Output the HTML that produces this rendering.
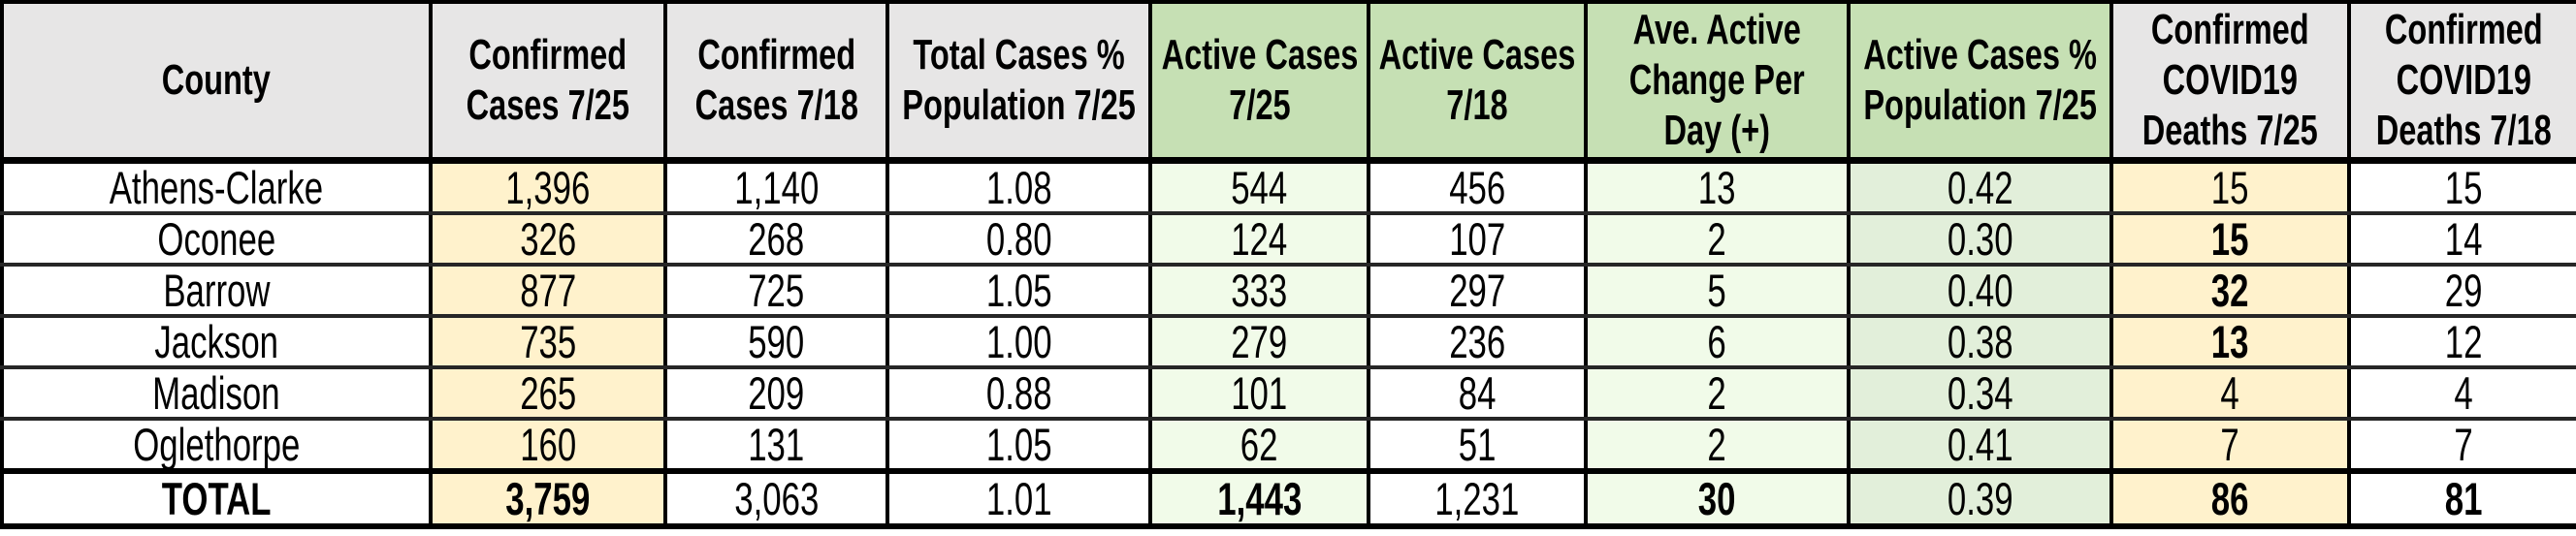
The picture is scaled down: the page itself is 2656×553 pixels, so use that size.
<!DOCTYPE html>
<html><head><meta charset="utf-8"><style>
html,body{margin:0;padding:0;background:#fff;width:2656px;height:553px;overflow:hidden}
table{border-collapse:collapse;table-layout:fixed;width:2656px;font-family:"Liberation Sans",Arial,sans-serif;color:#000}
td,th{border:4px solid #000;text-align:center;padding:0;overflow:hidden;white-space:nowrap}
th{height:158px;font-weight:bold;font-size:44px;line-height:52px;background:#e7e6e6;border-bottom:7px solid #000}
th.g{background:#c6e0b4}
td{height:49px;font-size:47px;line-height:49px;border-top:4px solid #262626;border-bottom:4px solid #262626}
tr.t td{height:51px;border-top:6px solid #000;border-bottom:6px solid #000}
span{display:inline-block;transform:scaleX(.74);transform-origin:center;margin:0 -150px}
.c{background:#fff2cc}
.a{background:#f1fbe9}
.p{background:#e2efda}
b{font-weight:bold}
</style></head><body>
<table>
<colgroup><col style="width:442px"><col style="width:242px"><col style="width:229px"><col style="width:271px"><col style="width:225px"><col style="width:224px"><col style="width:271px"><col style="width:271px"><col style="width:245px"><col style="width:236px"></colgroup>
<tr>
<th><span>County</span></th>
<th><span>Confirmed<br>Cases 7/25</span></th>
<th><span>Confirmed<br>Cases 7/18</span></th>
<th><span>Total Cases %<br>Population 7/25</span></th>
<th class="g"><span>Active Cases<br>7/25</span></th>
<th class="g"><span>Active Cases<br>7/18</span></th>
<th class="g"><span>Ave. Active<br>Change Per<br>Day (+)</span></th>
<th class="g"><span>Active Cases %<br>Population 7/25</span></th>
<th><span>Confirmed<br>COVID19<br>Deaths 7/25</span></th>
<th><span>Confirmed<br>COVID19<br>Deaths 7/18</span></th>
</tr>
<tr><td><span>Athens-Clarke</span></td><td class="c"><span>1,396</span></td><td><span>1,140</span></td><td><span>1.08</span></td><td class="a"><span>544</span></td><td><span>456</span></td><td class="a"><span>13</span></td><td class="p"><span>0.42</span></td><td class="c"><span>15</span></td><td><span>15</span></td></tr>
<tr><td><span>Oconee</span></td><td class="c"><span>326</span></td><td><span>268</span></td><td><span>0.80</span></td><td class="a"><span>124</span></td><td><span>107</span></td><td class="a"><span>2</span></td><td class="p"><span>0.30</span></td><td class="c"><span><b>15</b></span></td><td><span>14</span></td></tr>
<tr><td><span>Barrow</span></td><td class="c"><span>877</span></td><td><span>725</span></td><td><span>1.05</span></td><td class="a"><span>333</span></td><td><span>297</span></td><td class="a"><span>5</span></td><td class="p"><span>0.40</span></td><td class="c"><span><b>32</b></span></td><td><span>29</span></td></tr>
<tr><td><span>Jackson</span></td><td class="c"><span>735</span></td><td><span>590</span></td><td><span>1.00</span></td><td class="a"><span>279</span></td><td><span>236</span></td><td class="a"><span>6</span></td><td class="p"><span>0.38</span></td><td class="c"><span><b>13</b></span></td><td><span>12</span></td></tr>
<tr><td><span>Madison</span></td><td class="c"><span>265</span></td><td><span>209</span></td><td><span>0.88</span></td><td class="a"><span>101</span></td><td><span>84</span></td><td class="a"><span>2</span></td><td class="p"><span>0.34</span></td><td class="c"><span>4</span></td><td><span>4</span></td></tr>
<tr><td><span>Oglethorpe</span></td><td class="c"><span>160</span></td><td><span>131</span></td><td><span>1.05</span></td><td class="a"><span>62</span></td><td><span>51</span></td><td class="a"><span>2</span></td><td class="p"><span>0.41</span></td><td class="c"><span>7</span></td><td><span>7</span></td></tr>
<tr class="t"><td><span><b>TOTAL</b></span></td><td class="c"><span><b>3,759</b></span></td><td><span>3,063</span></td><td><span>1.01</span></td><td class="a"><span><b>1,443</b></span></td><td><span>1,231</span></td><td class="a"><span><b>30</b></span></td><td class="p"><span>0.39</span></td><td class="c"><span><b>86</b></span></td><td><span><b>81</b></span></td></tr>
</table>
</body></html>
